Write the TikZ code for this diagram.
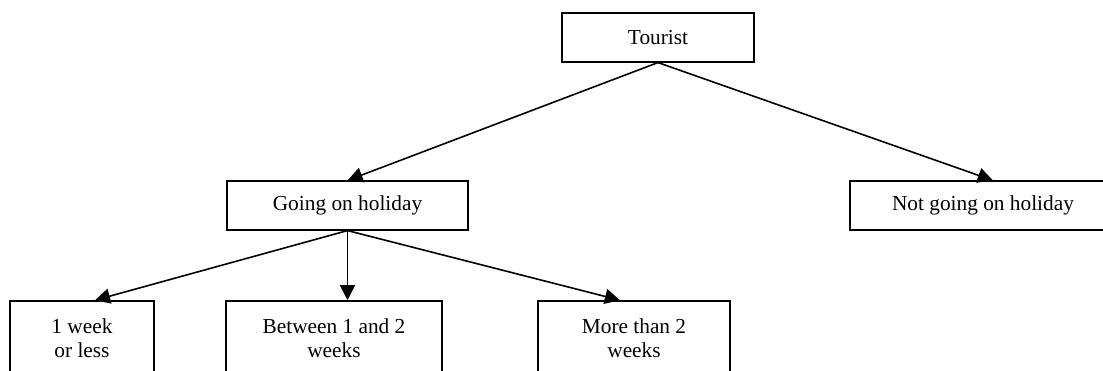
\documentclass[tikz,border=0pt]{standalone}
\usepackage{fontspec}
\setmainfont{Liberation Serif}
\usetikzlibrary{arrows.meta,calc,positioning}
\tikzset{
  box/.style={draw,line width=0.9pt,align=center,inner sep=2pt,minimum height=27.3pt},
  lowbox/.style={box,minimum height=41.6pt},
  edge/.style={-{Triangle[length=8.5pt,width=8.5pt]},line width=0.9pt},
  every node/.style={font=\fontsize{12}{13.8}\selectfont}
}

\begin{document}
\begin{tikzpicture}[x=0.5625pt,y=-0.5625pt]
\useasboundingbox (0,0) rectangle (1103,370);
\node[box,minimum width=108pt] (tourist) at (658,37.5) {Tourist};
\node[box,minimum width=135.6pt] (going) at (347.5,205.5) {Going on holiday};
\node[box,minimum width=149.6pt] (notgoing) at (983,205.5) {Not going on holiday};
\node[lowbox,minimum width=81pt] (week) at (82,338) {1 week\\or less};
\node[lowbox,minimum width=121.5pt] (between) at (334,338) {Between 1 and 2\\weeks};
\node[lowbox,minimum width=108pt] (more) at (634,338) {More than 2\\weeks};
\draw[edge] (tourist.south) -- (going.north);
\draw[edge] (tourist.south) -- ([xshift=5.6pt]notgoing.north);
\draw[edge] (going.south) -- ([xshift=7.3pt]week.north);
\draw[edge] (going.south) -- (going.south |- between.north);
\draw[edge] (going.south) -- ([xshift=-7.9pt]more.north);
\end{tikzpicture}
\end{document}
